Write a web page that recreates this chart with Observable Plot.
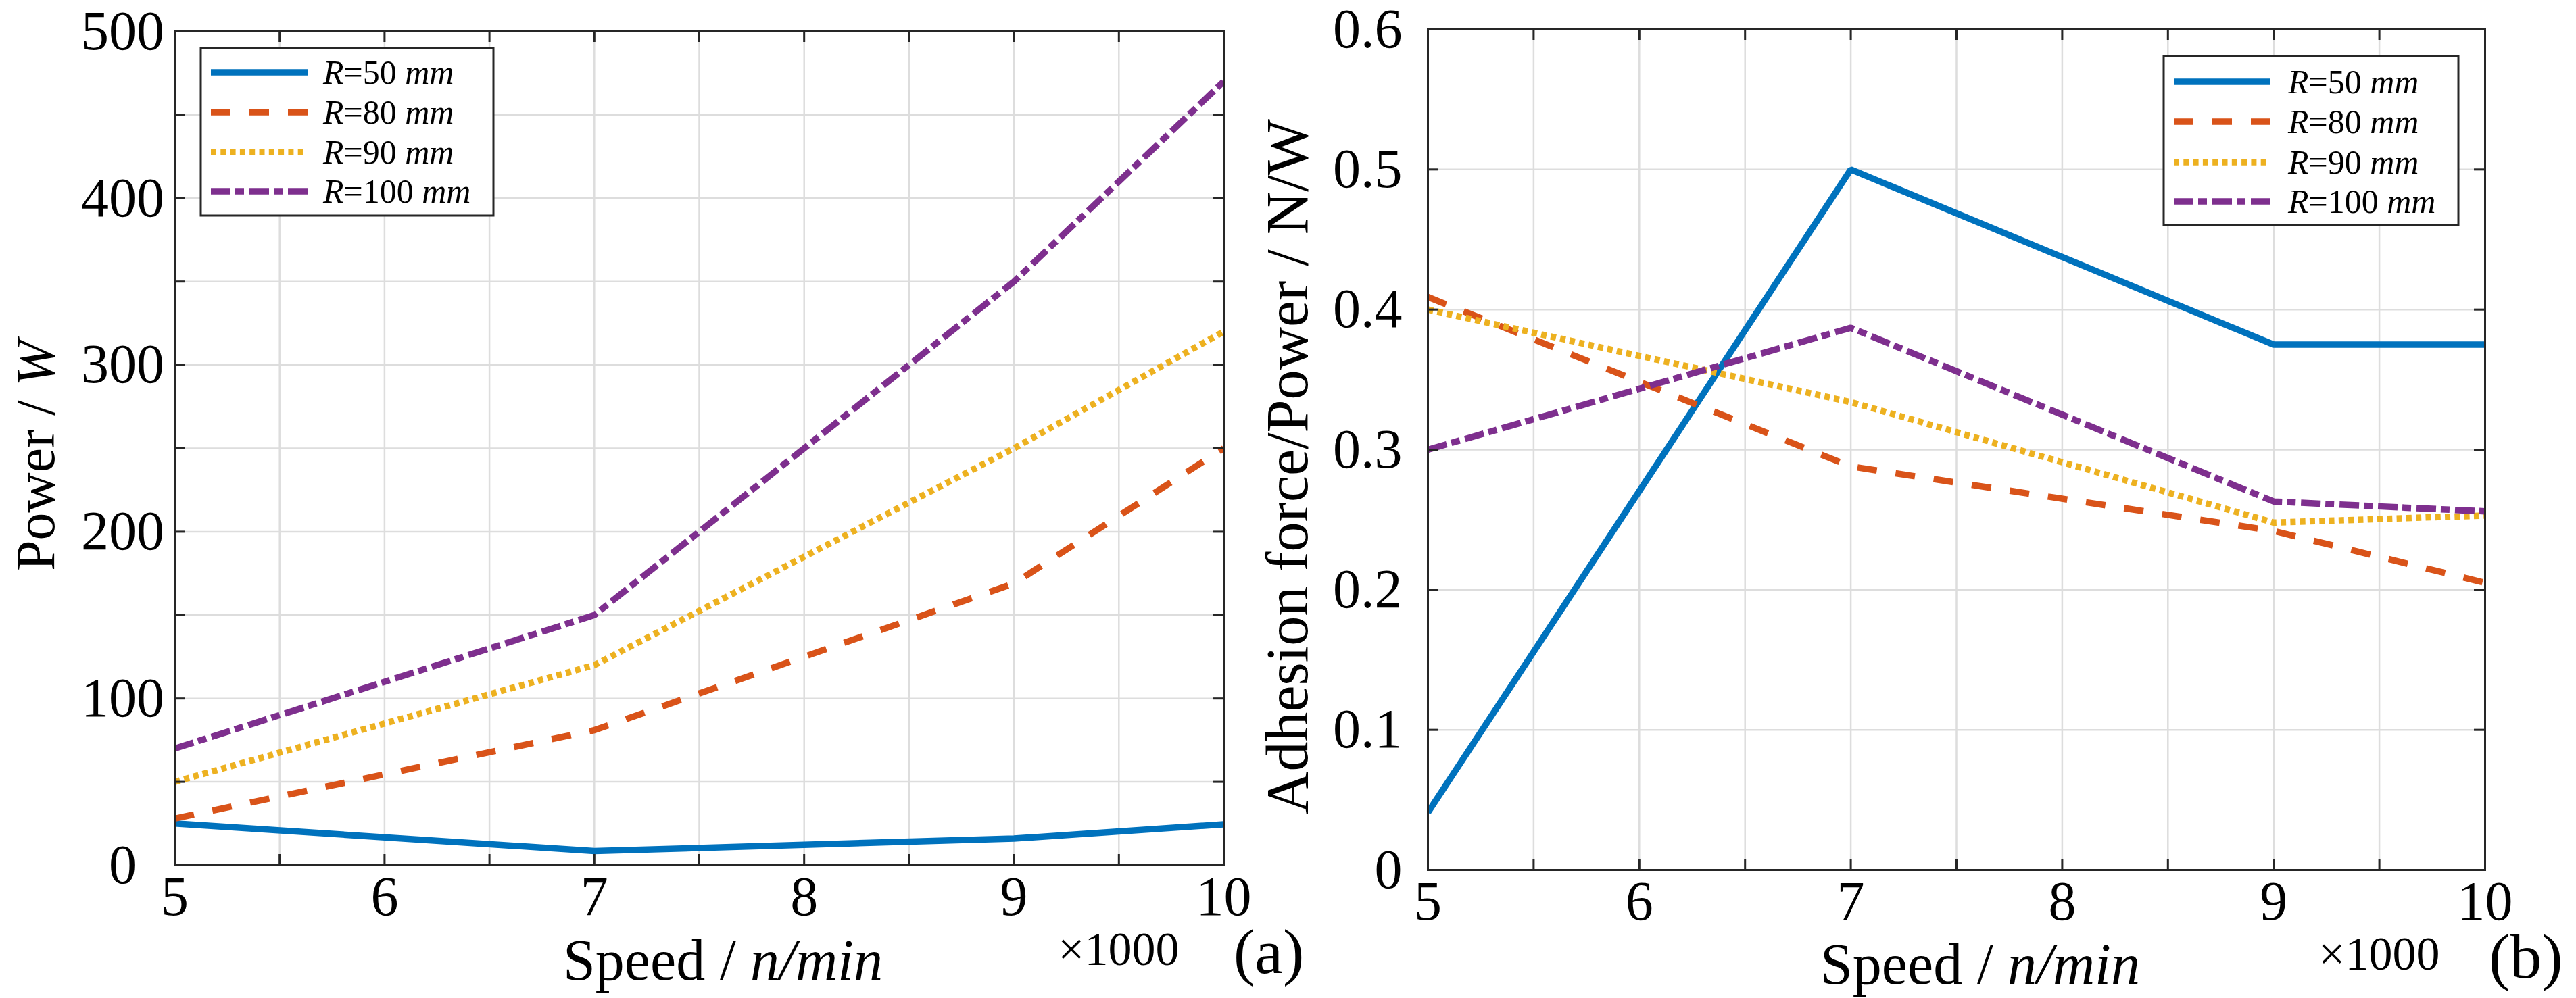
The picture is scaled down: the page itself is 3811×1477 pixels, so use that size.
<!DOCTYPE html>
<html>
<head>
<meta charset="utf-8">
<script src="https://cdn.jsdelivr.net/npm/d3@7"></script>
<script src="https://cdn.jsdelivr.net/npm/@observablehq/plot@0.6"></script>
<style>
  html, body { margin: 0; padding: 0; background: #fff; }
  #fig { position: relative; width: 3811px; height: 1477px; }
  #fig svg { position: absolute; top: 0; overflow: visible; }
</style>
</head>
<body>
<div id="fig"></div>
<script>
// speed (x1000 n/min)
const speeds = [5, 7, 9, 10];
const radii = [50, 80, 90, 100];

// (a) power / W
const power50 = [25, 8.5, 16, 24.5];
const power80 = [28, 81, 169, 250];
const power90 = [50, 120, 250, 320];
const power100 = [70, 150, 350, 470];

// (b) adhesion force / power, N/W
const ratio50 = [0.041, 0.5, 0.375, 0.375];
const ratio80 = [0.409, 0.288, 0.242, 0.205];
const ratio90 = [0.4, 0.334, 0.248, 0.253];
const ratio100 = [0.3, 0.387, 0.263, 0.256];

// ticks
const xTicks = [5, 6, 7, 8, 9, 10];
const xGrid = [5, 5.5, 6, 6.5, 7, 7.5, 8, 8.5, 9, 9.5, 10];
const powerTicks = [0, 100, 200, 300, 400, 500];
const powerGrid = [0, 50, 100, 150, 200, 250, 300, 350, 400, 450, 500];
const ratioTicks = [0, 0.1, 0.2, 0.3, 0.4, 0.5, 0.6];

// matlab-ish line styles
const colors = ["#0072BD", "#D95319", "#EDB120", "#7E2F8E"];
const dashes = [null, "29,28", "8,6.3", "29,7,13,8"];
const serif = '"Liberation Serif", "Times New Roman", serif';
const axisColor = "#262626";

function rows(values) {
  return speeds.map((s, i) => ({speed: s, value: values[i]}));
}

function panel({series, yDomain, yTicks, yGrid, yFormat, width, height, margins, yPad, yAnchor}) {
  const [mt, mr, mb, ml] = margins;
  const innerW = width - ml - mr;
  const innerH = height - mt - mb;
  const tick = 16;
  const tickStyle = {stroke: axisColor, strokeWidth: 3};
  return Plot.plot({
    width, height,
    marginTop: mt, marginRight: mr, marginBottom: mb, marginLeft: ml,
    x: {domain: [5, 10]},
    y: {domain: yDomain},
    style: {fontFamily: serif, fontSize: "82px", background: "white", color: "black"},
    marks: [
      Plot.gridX(xGrid, {stroke: "#dddddd", strokeOpacity: 1, strokeWidth: 2.5}),
      Plot.gridY(yGrid, {stroke: "#dddddd", strokeOpacity: 1, strokeWidth: 2.5}),
      ...series.map((vals, i) =>
        Plot.line(rows(vals), {
          x: "speed", y: "value",
          stroke: colors[i], strokeWidth: 9.5,
          strokeDasharray: dashes[i],
          strokeLinecap: "butt", strokeLinejoin: "miter",
          clip: true
        })
      ),
      // inward ticks on all four sides
      Plot.ruleX(xGrid, {x: d => d, insetTop: innerH - tick, ...tickStyle}),
      Plot.ruleX(xGrid, {x: d => d, insetBottom: innerH - tick, ...tickStyle}),
      Plot.ruleY(yGrid, {y: d => d, insetRight: innerW - tick, ...tickStyle}),
      Plot.ruleY(yGrid, {y: d => d, insetLeft: innerW - tick, ...tickStyle}),
      Plot.frame({stroke: axisColor, strokeWidth: 3}),
      Plot.axisX(xTicks, {tickSize: 0, tickPadding: 15, tickFormat: d => String(d), label: null}),
      Plot.axisY(yTicks, {tickSize: 0, tickPadding: yPad, tickFormat: yFormat, textAnchor: yAnchor, label: null})
    ]
  });
}

function addText(svg, parts, {x, y, size, rotate = 0, anchor = "start"}) {
  const t = d3.select(svg).append("text")
    .attr("transform", `translate(${x},${y}) rotate(${rotate})`)
    .attr("font-family", serif)
    .attr("font-size", size)
    .attr("text-anchor", anchor)
    .attr("fill", "black")
    .style("white-space", "pre");
  parts.forEach(([s, italic]) =>
    t.append("tspan").attr("font-style", italic ? "italic" : "normal").text(s));
}

function addLegend(svg, {x0, y0, x1, y1, lineX0, lineX1, textX, rowY}) {
  const g = d3.select(svg).append("g");
  g.append("rect")
    .attr("x", x0).attr("y", y0)
    .attr("width", x1 - x0).attr("height", y1 - y0)
    .attr("fill", "white").attr("stroke", axisColor).attr("stroke-width", 3);
  radii.forEach((r, i) => {
    g.append("line")
      .attr("x1", lineX0).attr("x2", lineX1)
      .attr("y1", rowY[i]).attr("y2", rowY[i])
      .attr("stroke", colors[i]).attr("stroke-width", 9.5)
      .attr("stroke-dasharray", dashes[i])
      .attr("stroke-linecap", "butt");
    const t = g.append("text")
      .attr("x", textX).attr("y", rowY[i] + 17)
      .attr("font-family", serif).attr("font-size", 50)
      .attr("text-anchor", "start")
      .attr("fill", "black").style("white-space", "pre");
    t.append("tspan").attr("font-style", "italic").text("R");
    t.append("tspan").text("=" + r);
    t.append("tspan").attr("font-style", "italic").text(" mm");
  });
}

const fig = document.getElementById("fig");

// (a)
const left = panel({
  series: [power50, power80, power90, power100],
  yDomain: [0, 500], yTicks: powerTicks, yGrid: powerGrid,
  yFormat: d => String(d),
  width: 1960, height: 1477,
  margins: [46, 150, 197, 258], yPad: 77, yAnchor: "middle"
});
left.style.left = "0px";
fig.appendChild(left);
addText(left, [["Power / ", false], ["W", true]], {x: 80, y: 845, size: 82, rotate: -90});
addText(left, [["Speed / ", false], ["n/min", true]], {x: 833, y: 1450, size: 86});
addText(left, [["\u00d71000", false]], {x: 1565, y: 1428, size: 70});
addText(left, [["(a)", false]], {x: 1825, y: 1440, size: 94});
addLegend(left, {x0: 297, y0: 71, x1: 730, y1: 319, lineX0: 312, lineX1: 456, textX: 478,
  rowY: [107, 166, 225, 283]});

// (b)
const right = panel({
  series: [ratio50, ratio80, ratio90, ratio100],
  yDomain: [0, 0.6], yTicks: ratioTicks, yGrid: ratioTicks,
  yFormat: d => (d === 0 ? "0" : d3.format(".1f")(d)),
  width: 1851, height: 1477,
  margins: [43, 135, 190, 152], yPad: 38, yAnchor: "end"
});
right.style.left = "1960px";
fig.appendChild(right);
addText(right, [["Adhesion force/Power / N/W", false]], {x: -26, y: 1205, size: 88, rotate: -90});
addText(right, [["Speed / ", false], ["n/min", true]], {x: 733, y: 1456, size: 86});
addText(right, [["\u00d71000", false]], {x: 1470, y: 1435, size: 70});
addText(right, [["(b)", false]], {x: 1722, y: 1447, size: 94});
addLegend(right, {x0: 1241, y0: 83, x1: 1677, y1: 333, lineX0: 1256, lineX1: 1399, textX: 1425,
  rowY: [121, 180, 240, 298]});
</script>
</body>
</html>
